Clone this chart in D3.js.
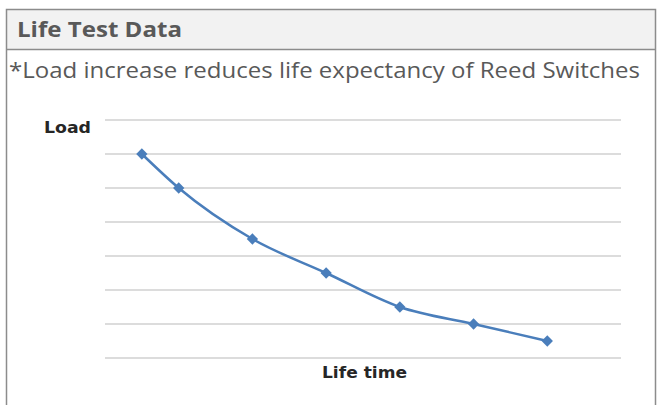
<!DOCTYPE html>
<html>
<head>
<meta charset="utf-8">
<script src="https://cdn.jsdelivr.net/npm/d3@7"></script>
<style>
  body { margin: 0; background: #fff; }
  svg { display: block; }
</style>
</head>
<body>
<svg id="chart" width="657" height="405"></svg>
<script>
// life time position (gridline units) and load level
var lifeTime = [0.5, 1, 2, 3, 4, 5, 6];
var load = [6, 5, 3.5, 2.5, 1.5, 1, 0.5];
var gridLevels = [0, 1, 2, 3, 4, 5, 6, 7];

var titleText = "Life Test Data";
var noteText = "*Load increase reduces life expectancy of Reed Switches";
var yLabel = "Load";
var xLabel = "Life time";

var svg = d3.select("#chart");

// panel frame + header
svg.append("rect")
    .attr("x", 6).attr("y", 9)
    .attr("width", 649).attr("height", 40)
    .attr("fill", "#f2f2f2");
svg.append("path")
    .attr("d", "M6.5,410 V9.5 H655.5 V410 M6.5,49.5 H655.5")
    .attr("fill", "none")
    .attr("stroke", "#8c8c8c")
    .attr("stroke-width", 1.5);

svg.append("text")
    .attr("x", 17).attr("y", 37)
    .attr("font-family", "'Open Sans', sans-serif")
    .attr("font-weight", 700)
    .attr("font-size", 22)
    .attr("fill", "#595959")
    .attr("textLength", 165)
    .attr("lengthAdjust", "spacingAndGlyphs")
    .text(titleText);

svg.append("text")
    .attr("x", 9).attr("y", 78)
    .attr("font-family", "'Open Sans', sans-serif")
    .attr("font-size", 21)
    .attr("fill", "#595959")
    .attr("textLength", 631)
    .attr("lengthAdjust", "spacingAndGlyphs")
    .text(noteText);

// plot
var x = d3.scaleLinear().domain([0, 7]).range([105, 621]);
var y = d3.scaleLinear().domain([0, 7]).range([358, 120]);

svg.append("g")
    .selectAll("line")
    .data(gridLevels)
    .enter().append("line")
    .attr("x1", x(0)).attr("x2", x(7))
    .attr("y1", d => y(d)).attr("y2", d => y(d))
    .attr("stroke", "#dcdcdc")
    .attr("stroke-width", 2);

var pts = lifeTime.map((t, i) => [t, load[i]]);

var line = d3.line()
    .x(d => x(d[0]))
    .y(d => y(d[1]))
    .curve(d3.curveMonotoneX);

svg.append("path")
    .datum(pts)
    .attr("d", line)
    .attr("fill", "none")
    .attr("stroke", "#4a7ebb")
    .attr("stroke-width", 2.5);

// diamond markers (square turned 45deg)
svg.append("g")
    .selectAll("path")
    .data(pts)
    .enter().append("path")
    .attr("d", d3.symbol().type(d3.symbolSquare).size(64))
    .attr("transform", d => "translate(" + x(d[0]) + "," + y(d[1]) + ") rotate(45)")
    .attr("fill", "#4a7ebb");

// axis labels
svg.append("text")
    .attr("x", 44).attr("y", 133)
    .attr("font-family", "'DejaVu Sans', sans-serif")
    .attr("font-weight", 700)
    .attr("font-size", 15)
    .attr("fill", "#262626")
    .attr("textLength", 47)
    .attr("lengthAdjust", "spacingAndGlyphs")
    .text(yLabel);

svg.append("text")
    .attr("x", 322).attr("y", 378)
    .attr("font-family", "'DejaVu Sans', sans-serif")
    .attr("font-weight", 700)
    .attr("font-size", 15)
    .attr("fill", "#262626")
    .attr("textLength", 85)
    .attr("lengthAdjust", "spacingAndGlyphs")
    .text(xLabel);
</script>
</body>
</html>
